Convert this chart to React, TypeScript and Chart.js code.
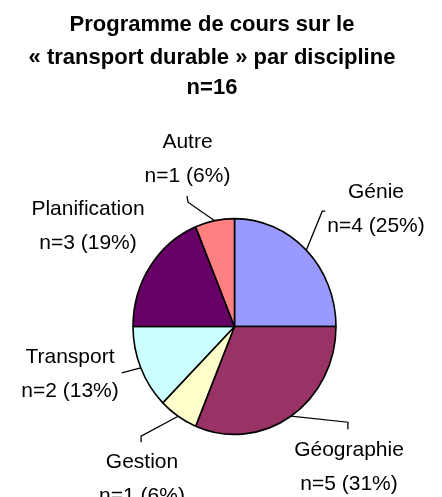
import React, { useEffect, useRef } from "react";
import { Chart, registerables } from "chart.js";

Chart.register(...registerables);

// ---- data ----
const categories = ["Génie", "Géographie", "Gestion", "Transport", "Planification", "Autre"];
const counts = [4, 5, 1, 2, 3, 1];
const sliceColors = ["#9999FF", "#993366", "#FFFFCC", "#CCFFFF", "#660066", "#FF8080"];
const titleLines = ["Programme de cours sur le", "« transport durable » par discipline", "n=16"];

// ---- layout / style ----
const W = 442;
const H = 497;
const Y_STRETCH = 1.063;
const FONT = '"Liberation Sans", Arial, Helvetica, sans-serif';
const TITLE_X = 212;
const TITLE_BASELINES = [31, 63.5, 93.5];
const LABEL_GAP = 34;

// label text centre + first baseline, leader elbows relative to slice edge point
const labelLayout: { x: number; y: number; leader: number[][] }[] = [
  { x: 376, y: 198, leader: [[16, -39], [19, -39]] }, // Génie
  { x: 349, y: 456, leader: [[57, 6], [57, 13]] }, // Géographie
  { x: 142, y: 468, leader: [[-37, 20], [-37, 26]] }, // Gestion
  { x: 70, y: 363, leader: [[-19, 5]] }, // Transport
  { x: 88, y: 215, leader: [] }, // Planification
  { x: 187.5, y: 148, leader: [[-26.7, -18.5], [-27.7, -24.5]] }, // Autre
];

const ellipsePlugin = {
  id: "ellipse",
  beforeDatasetsDraw(chart: any) {
    const arc = chart.getDatasetMeta(0).data[0];
    if (!arc) return;
    const ctx = chart.ctx;
    ctx.save();
    ctx.translate(arc.x, arc.y);
    ctx.scale(1, Y_STRETCH);
    ctx.translate(-arc.x, -arc.y);
  },
  afterDatasetsDraw(chart: any) {
    chart.ctx.restore();
  },
};

const textPlugin = {
  id: "texts",
  afterDraw(chart: any) {
    const ctx = chart.ctx;
    ctx.save();
    ctx.fillStyle = "#000";
    ctx.textAlign = "center";
    ctx.textBaseline = "alphabetic";
    ctx.font = `bold 22px ${FONT}`;
    titleLines.forEach((t, i) => ctx.fillText(t, TITLE_X, TITLE_BASELINES[i]));

    const total = counts.reduce((a, b) => a + b, 0);
    const meta = chart.getDatasetMeta(0);
    ctx.font = `21px ${FONT}`;
    ctx.strokeStyle = "#000";
    ctx.lineWidth = 1.3;
    meta.data.forEach((arc: any, i: number) => {
      const lay = labelLayout[i];
      const mid = (arc.startAngle + arc.endAngle) / 2;
      const ex = arc.x + Math.cos(mid) * arc.outerRadius;
      const ey = arc.y + Math.sin(mid) * arc.outerRadius * Y_STRETCH;
      if (lay.leader.length) {
        ctx.beginPath();
        ctx.moveTo(ex, ey);
        lay.leader.forEach((p) => ctx.lineTo(ex + p[0], ey + p[1]));
        ctx.stroke();
      }
      const pct = Math.round((counts[i] / total) * 100);
      ctx.fillText(categories[i], lay.x, lay.y);
      ctx.fillText(`n=${counts[i]} (${pct}%)`, lay.x, lay.y + LABEL_GAP);
    });
    ctx.restore();
  },
};

export default function App() {
  const ref = useRef<HTMLCanvasElement>(null);
  useEffect(() => {
    if (!ref.current) return;
    const chart = new Chart(ref.current, {
      type: "pie",
      data: {
        labels: categories,
        datasets: [
          {
            data: counts,
            backgroundColor: sliceColors,
            borderColor: "#000000",
            borderWidth: 1.6,
          },
        ],
      },
      options: {
        responsive: false,
        animation: false,
        events: [],
        radius: 101.5,
        layout: { padding: { left: 27, right: 0, top: 156, bottom: 0 } },
        plugins: {
          legend: { display: false },
          title: { display: false },
          tooltip: { enabled: false },
        },
      } as any,
      plugins: [ellipsePlugin, textPlugin],
    });
    return () => chart.destroy();
  }, []);
  return (
    <div style={{ position: "absolute", left: 0, top: 0, width: W, height: H, background: "#fff" }}>
      <canvas ref={ref} width={W} height={H} style={{ display: "block" }} />
    </div>
  );
}
